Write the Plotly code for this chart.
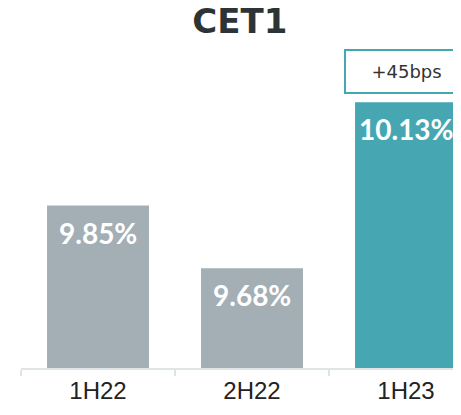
import plotly.graph_objects as go

categories = ["1H22", "2H22", "1H23"]
values = [9.85, 9.68, 10.13]
labels = ["9.85%", "9.68%", "10.13%"]
colors = ["#a3afb5", "#a3afb5", "#46a7b3"]
change_label = "+45bps"
y_base = 9.4095

fig = go.Figure()
fig.add_trace(go.Bar(
    x=categories, y=[v - y_base for v in values], base=y_base,
    marker=dict(color=colors, line=dict(width=0)),
    hoverinfo="skip",
))

for c, v, t in zip(categories, values, labels):
    fig.add_annotation(x=c, y=v, text=f"<b>{t}</b>", showarrow=False,
                       yanchor="middle", yshift=-27,
                       font=dict(family="Lato", size=28, color="white"))

fig.add_annotation(x=categories[2], y=values[2], text=change_label, showarrow=False,
                   yanchor="bottom", yshift=8, width=119, height=39,
                   bordercolor="#46a7b3", borderwidth=2, bgcolor="white",
                   font=dict(family="DejaVu Sans", size=18, color="#333333"))

fig.update_layout(
    width=461, height=415,
    margin=dict(l=13, r=0, t=32, b=55, autoexpand=False),
    plot_bgcolor="white", paper_bgcolor="white",
    showlegend=False, bargap=0.338,
    title=dict(text="<b>CET1</b>", x=0.503, xanchor="center", y=0.9687, yanchor="middle",
               font=dict(family="DejaVu Sans", size=34, color="#2d3436")),
    xaxis=dict(range=[-0.5, 2.409], showline=True, linecolor="#dfe4e6", linewidth=2,
               ticks="outside", tickson="boundaries", ticklen=6, tickcolor="#dfe4e6",
               tickwidth=2, automargin=False,
               tickfont=dict(family="Liberation Sans", size=24, color="#222222"),
               showgrid=False, fixedrange=True),
    yaxis=dict(range=[y_base, 10.2989], visible=False, showgrid=False, fixedrange=True),
)

fig.write_html("out.html")
